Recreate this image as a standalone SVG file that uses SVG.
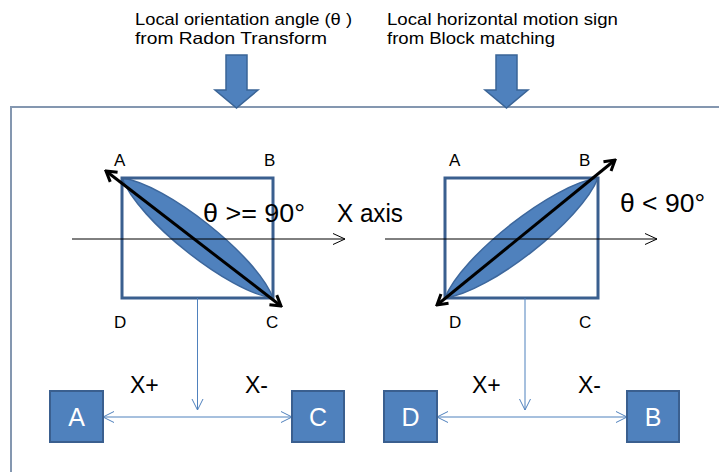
<svg xmlns="http://www.w3.org/2000/svg" width="719" height="472" viewBox="0 0 719 472">
<defs>
<style>
text{font-family:"Liberation Sans",Arial,sans-serif;fill:#000}
.top{font-size:16.5px}
.corner{font-size:17px}
.big{font-size:25px}
.sign{font-size:23px}
.boxl{font-size:25px;fill:#fff;text-anchor:middle}
.frame{fill:#fff;stroke:#8497b0;stroke-width:2}
.blk{fill:#4f81bd;stroke:#3a6496;stroke-width:1.5}
.sq{fill:none;stroke:#3a5f8f;stroke-width:3}
.lens{fill:#4f81bd;stroke:#3d679c;stroke-width:1.5}
.diag{stroke:#000;stroke-width:3;fill:none;marker-start:url(#hb);marker-end:url(#hb)}
.axis{stroke:#000;stroke-width:1;fill:none;marker-end:url(#ha)}
.conn{stroke:#4f81bd;stroke-width:1;fill:none}
.box{fill:#4f81bd;stroke:#3a5f8f;stroke-width:2}
</style>
<marker id="hb" viewBox="-12 -8 14 16" markerWidth="14" markerHeight="16" refX="0" refY="0" orient="auto-start-reverse" markerUnits="userSpaceOnUse">
<path d="M-10,-6 L0,0 L-10,6" fill="none" stroke="#000" stroke-width="3"/>
</marker>
<marker id="ha" viewBox="-14 -7 16 14" markerWidth="16" markerHeight="14" refX="0" refY="0" orient="auto" markerUnits="userSpaceOnUse">
<path d="M-12,-5.5 L0,0 L-12,5.5" fill="none" stroke="#000" stroke-width="1"/>
</marker>
<marker id="hc" viewBox="-14 -7 16 14" markerWidth="16" markerHeight="14" refX="0" refY="0" orient="auto-start-reverse" markerUnits="userSpaceOnUse">
<path d="M-11,-5.5 L0,0 L-11,5.5" fill="none" stroke="#4f81bd" stroke-width="1"/>
</marker>
</defs>
<rect width="719" height="472" fill="#fff"/>
<rect id="frame" class="frame" x="11" y="107" width="720" height="380"/>

<g id="label-radon">
<text class="top" x="135" y="25" textLength="217" lengthAdjust="spacingAndGlyphs">Local orientation angle (θ )</text>
<text class="top" x="135" y="44" textLength="192" lengthAdjust="spacingAndGlyphs">from  Radon Transform</text>
</g>
<g id="label-block">
<text class="top" x="387" y="25" textLength="231" lengthAdjust="spacingAndGlyphs">Local horizontal motion sign</text>
<text class="top" x="387" y="44" textLength="168" lengthAdjust="spacingAndGlyphs">from Block matching</text>
</g>

<g id="arrow-radon">
<path class="blk" d="M226,55 H247 V90 H258 L236.5,108 L215,90 H226 Z"/>
</g>
<g id="arrow-block">
<path class="blk" d="M496,55 H517 V90 H528 L506.5,108 L485,90 H496 Z"/>
</g>

<g id="block-left">
<path class="lens" d="M122,178 C166.5,184 257.1,256 273,298 C228.5,292 137.9,220 122,178 Z"/>
<rect class="sq" x="122" y="178" width="151" height="120"/>
<line class="diag" x1="106" y1="171" x2="281" y2="306"/>
<text class="corner" x="114" y="166">A</text>
<text class="corner" x="264" y="166">B</text>
<text class="corner" x="114" y="328">D</text>
<text class="corner" x="266" y="328">C</text>
</g>

<g id="block-right">
<path class="lens" d="M445,298 C461.4,255.9 553.2,183.9 598,178 C581.6,220.1 489.8,292.1 445,298 Z"/>
<rect class="sq" x="445" y="178" width="153" height="120"/>
<line class="diag" x1="437" y1="305" x2="615" y2="160"/>
<text class="corner" x="449" y="166">A</text>
<text class="corner" x="579" y="166">B</text>
<text class="corner" x="449" y="328">D</text>
<text class="corner" x="579" y="328">C</text>
</g>

<g id="axis-labels">
<text class="big" x="203" y="222" textLength="102" lengthAdjust="spacingAndGlyphs">θ &gt;= 90°</text>
<text class="big" x="337" y="222" textLength="66" lengthAdjust="spacingAndGlyphs">X axis</text>
<text class="big" x="620" y="212" textLength="85" lengthAdjust="spacingAndGlyphs">θ &lt; 90°</text>
</g>

<g id="connectors">
<line class="axis" x1="72" y1="239" x2="345" y2="239"/>
<line class="axis" x1="385" y1="239" x2="657" y2="239"/>
<line class="conn" x1="197.5" y1="298" x2="197.5" y2="410" marker-end="url(#hc)"/>
<line class="conn" x1="103" y1="417" x2="292" y2="417" marker-start="url(#hc)" marker-end="url(#hc)"/>
<line class="conn" x1="525" y1="298" x2="525" y2="410" marker-end="url(#hc)"/>
<line class="conn" x1="437" y1="417" x2="627" y2="417" marker-start="url(#hc)" marker-end="url(#hc)"/>
</g>

<g id="signs">
<text class="sign" x="130" y="393">X+</text>
<text class="sign" x="245" y="393">X-</text>
<text class="sign" x="472" y="393">X+</text>
<text class="sign" x="578" y="393">X-</text>
</g>

<g id="node-A"><rect class="box" x="50" y="391" width="53" height="51"/><text class="boxl" x="76.5" y="426">A</text></g>
<g id="node-C"><rect class="box" x="292" y="391" width="52" height="51"/><text class="boxl" x="318" y="426">C</text></g>
<g id="node-D"><rect class="box" x="384" y="391" width="53" height="51"/><text class="boxl" x="410.5" y="426">D</text></g>
<g id="node-B"><rect class="box" x="627" y="391" width="52" height="51"/><text class="boxl" x="653" y="426">B</text></g>
</svg>
